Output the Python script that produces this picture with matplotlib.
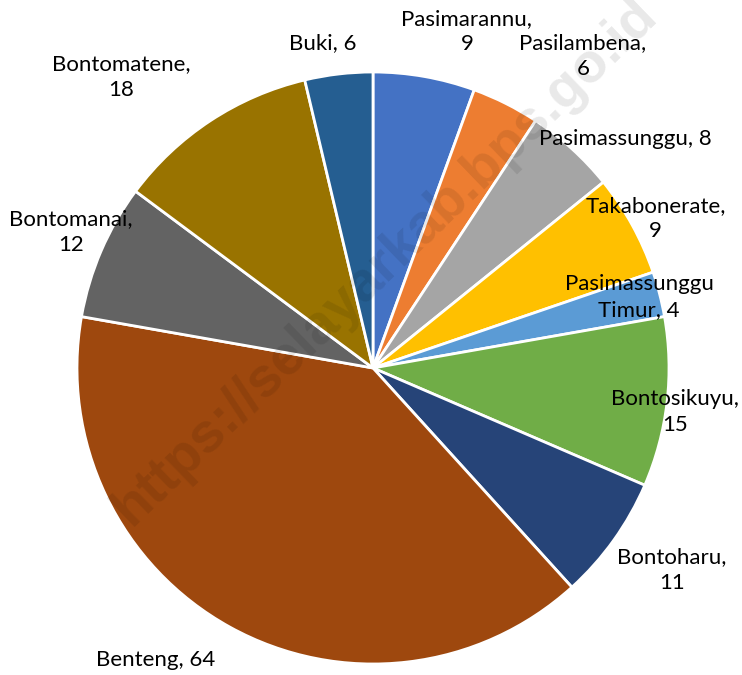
import numpy as np
import matplotlib.pyplot as plt

plt.rcParams['font.family'] = ['Lato', 'DejaVu Sans']

# data (clockwise from 12 o'clock)
labels = ['Pasimarannu,\n9', 'Pasilambena,\n6', 'Pasimassunggu, 8', 'Takabonerate,\n9',
          'Pasimassunggu\nTimur, 4', 'Bontosikuyu,\n15', 'Bontoharu,\n11', 'Benteng, 64',
          'Bontomanai,\n12', 'Bontomatene,\n18', 'Buki, 6']
values = [9, 6, 8, 9, 4, 15, 11, 64, 12, 18, 6]
colors = ['#4472C4', '#ED7D31', '#A5A5A5', '#FFC000', '#5B9BD5', '#70AD47',
          '#264478', '#9E480E', '#636363', '#997300', '#255E91']

# label placement: shift from wedge mid-angle (deg) and radius (in pie radii)
label_shift = [-5.6, -7.3, -5.6, -1.0, 0.5, -1.6, 1.5, -7.8, -0.9, 7.6, 2.2]
label_radius = [1.18, 1.27, 1.15, 1.08, 0.93, 1.03, 1.22, 1.23, 1.12, 1.30, 1.11]

fig = plt.figure(figsize=(7.42, 6.75), dpi=100)
W, H = 742, 675
cx, cy, R = 373, 368, 296
ax = fig.add_axes([(cx - R) / W, (H - cy - R) / H, 2 * R / W, 2 * R / H])

wedges, _ = ax.pie(values, colors=colors, startangle=90, counterclock=False, radius=1,
                   wedgeprops=dict(edgecolor='white', linewidth=2.0))
ax.set_xlim(-1, 1)
ax.set_ylim(-1, 1)
ax.set_aspect('equal')
ax.axis('off')

for w, lab, sh, rr in zip(wedges, labels, label_shift, label_radius):
    mid = np.deg2rad((w.theta1 + w.theta2) / 2 + sh)
    ax.text(rr * np.cos(mid), rr * np.sin(mid), lab, ha='center', va='center',
            fontsize=16, color='black', linespacing=1.35, clip_on=False)

# watermark (runs off the top edge, as in the source image)
fig.text(385 / W, 1 - 262 / H, 'https://selayarkab.bps.go.id', rotation=44,
         ha='center', va='center', fontsize=40, fontweight='bold',
         family='Liberation Sans', color='black', alpha=0.09, zorder=10)

fig.savefig('out.png', dpi=100)
